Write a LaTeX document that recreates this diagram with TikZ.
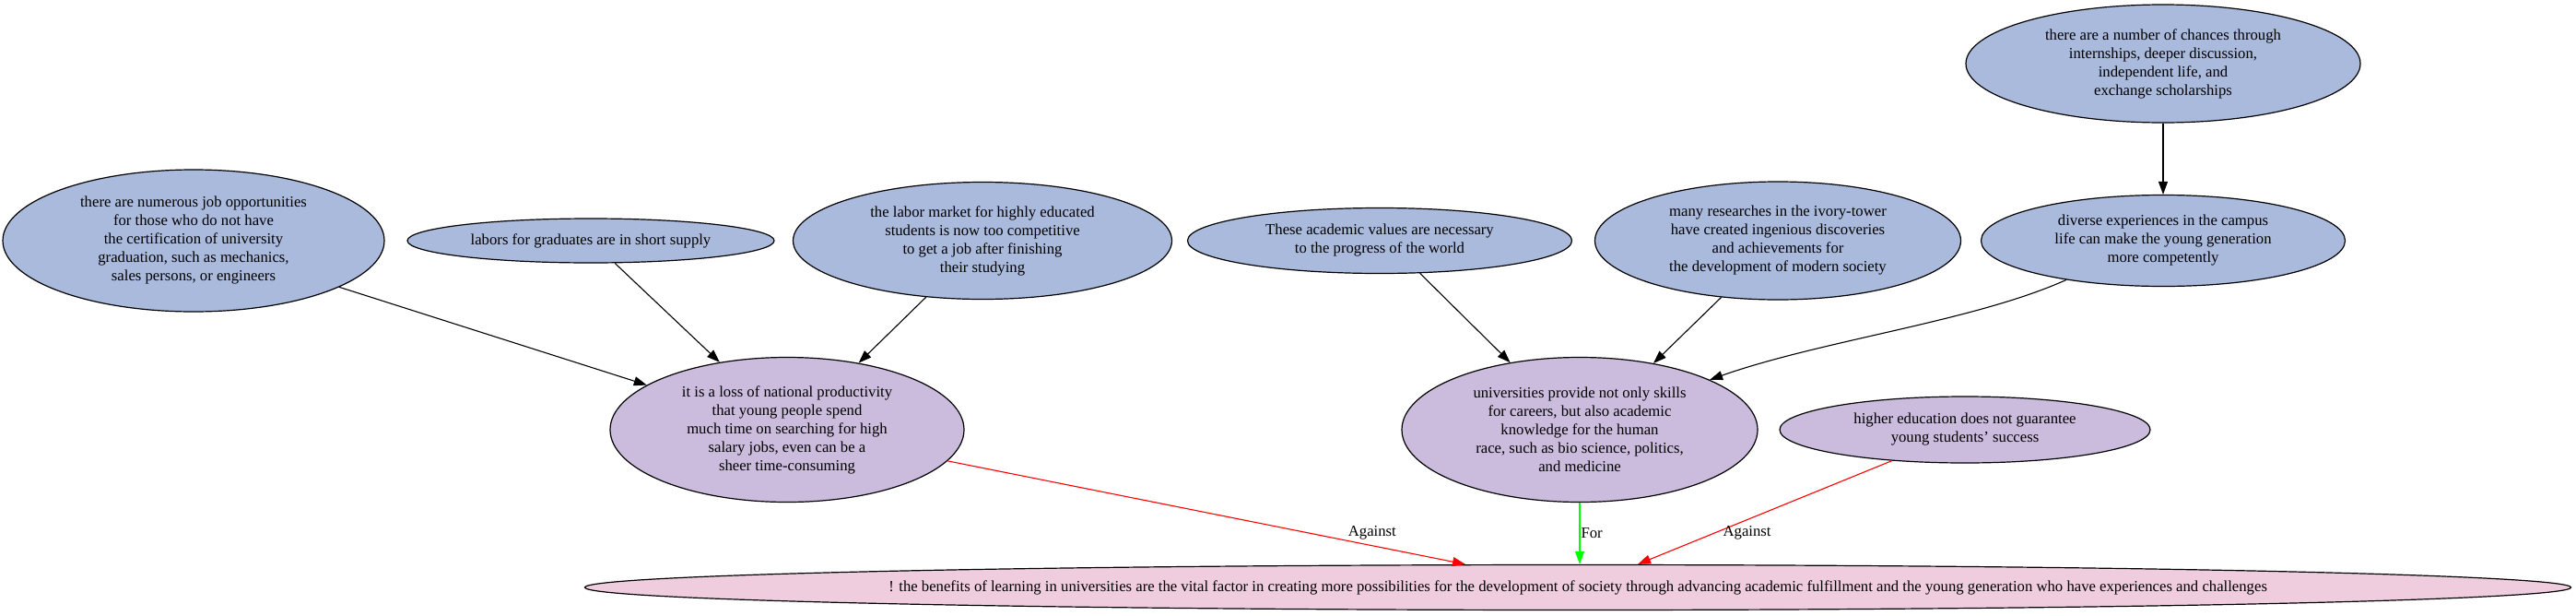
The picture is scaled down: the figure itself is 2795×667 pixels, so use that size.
\documentclass[tikz,border=0pt]{standalone}
\usepackage{fontspec}
\setmainfont{Liberation Serif}
\usepackage{xcolor}
\usetikzlibrary{shapes.geometric,arrows.meta}
\definecolor{premiseblue}{RGB}{170,186,221}
\definecolor{reasonpurple}{RGB}{203,187,221}
\definecolor{thesispink}{RGB}{239,204,222}

\begin{document}
\begin{tikzpicture}[x=1pt,y=-1pt]
\tikzset{every node/.style={font=\fontsize{16.7}{20}\selectfont}}
\tikzset{premise/.style={ellipse,draw,line width=1.2pt,fill=premiseblue,align=center,inner sep=0pt}}
\tikzset{reason/.style={premise,fill=reasonpurple}}
\tikzset{thesis/.style={premise,fill=thesispink}}
\tikzset{support/.style={line width=1.1pt,-{Triangle[length=14pt,width=10pt]}}}
\tikzset{pro/.style={support,green}}
\tikzset{con/.style={support,red}}

\useasboundingbox (0,0) rectangle (2795,667);

\node[premise,minimum width=414pt,minimum height=154pt] (jobs) at (210,261) {there are numerous job opportunities\\for those who do not have\\the certification of university\\graduation, such as mechanics,\\sales persons, or engineers};
\node[premise,minimum width=398pt,minimum height=48pt] (labors) at (641,261) {\makebox[0pt]{labors for graduates are in short supply}};
\node[premise,minimum width=411pt,minimum height=127pt] (market) at (1066,261) {the labor market for highly educated\\students is now too competitive\\to get a job after finishing\\their studying};
\node[premise,minimum width=417pt,minimum height=71pt] (values) at (1497,261) {These academic values are necessary\\to the progress of the world};
\node[premise,minimum width=397pt,minimum height=128pt] (research) at (1929,261) {many researches in the ivory-tower\\have created ingenious discoveries\\and achievements for\\the development of modern society};
\node[premise,minimum width=395pt,minimum height=99pt] (diverse) at (2347,261) {diverse experiences in the campus\\life can make the young generation\\more competently};
\node[premise,minimum width=428pt,minimum height=128pt] (chances) at (2347,69) {there are a number of chances through\\internships, deeper discussion,\\independent life, and\\exchange scholarships};

\node[reason,minimum width=384pt,minimum height=157pt] (loss) at (854,466) {it is a loss of national productivity\\that young people spend\\much time on searching for high\\salary jobs, even can be a\\sheer time-consuming};
\node[reason,minimum width=386pt,minimum height=157pt] (univ) at (1714,466) {universities provide not only skills\\for careers, but also academic\\knowledge for the human\\race, such as bio science, politics,\\and medicine};
\node[reason,minimum width=402pt,minimum height=72pt] (higher) at (2132,466) {higher education does not guarantee\\young students' success};

\node[thesis,minimum width=2155pt,minimum height=49pt] (main) at (1712,637) {\makebox[0pt]{! the benefits of learning in universities are the vital factor in creating more possibilities for the development of society through advancing academic fulfillment and the young generation who have experiences and challenges}};

\draw[support] (chances) -- (diverse);
\draw[support] (jobs) -- (loss);
\draw[support] (labors.-43.8) -- (loss.135.8);
\draw[support] (market.-135.5) -- (loss.43.8);
\draw[support] (values.-39.8) -- (univ.136.5);
\draw[support] (research.-135.5) -- (univ.42.7);
\draw[support] (diverse.-158) .. controls +(-100,45) and +(122,-43) .. (univ.21.1);

\draw[con] (loss.-11.7) -- ([xshift=-122pt]main.north) node[pos=0.82,yshift=14pt,black] {Against};
\draw[pro] (univ.south) -- (univ.south |- main.north) node[pos=0.5,right,inner sep=1pt,black] {For};
\draw[con] (higher.-157.6) -- ([xshift=65pt]main.north) node[pos=0.7,right=6pt,black] {Against};

\end{tikzpicture}
\end{document}
